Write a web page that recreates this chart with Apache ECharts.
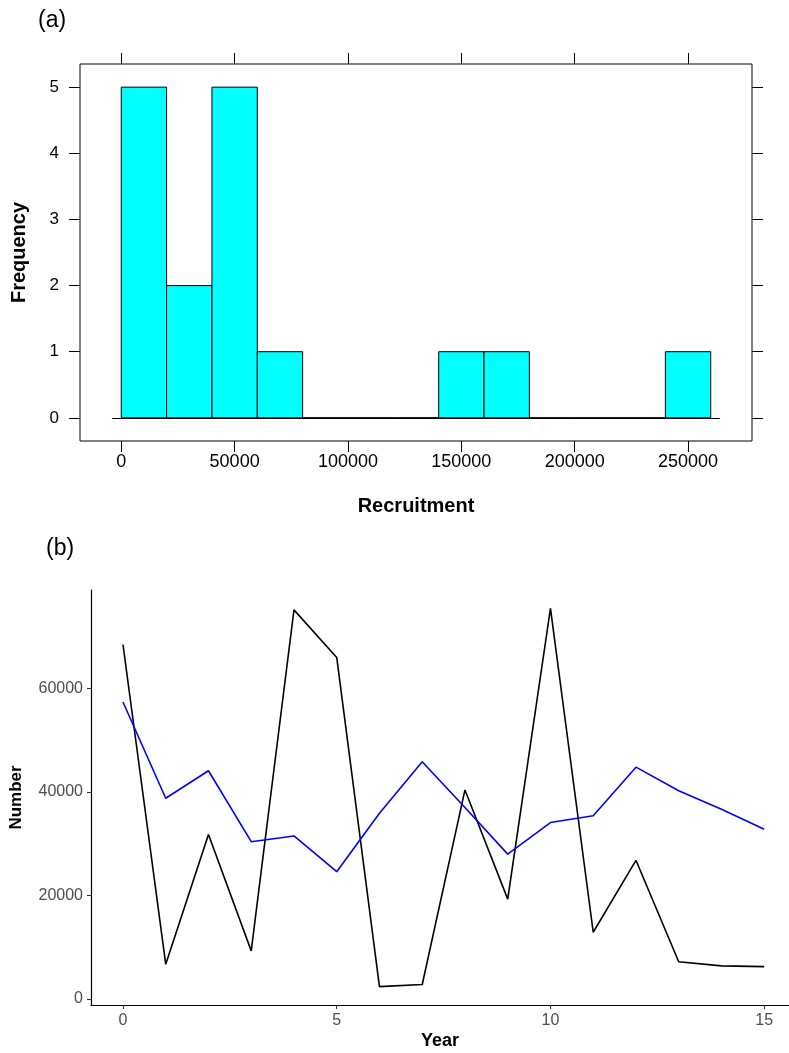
<!DOCTYPE html>
<html>
<head>
<meta charset="utf-8">
<script src="https://cdn.jsdelivr.net/npm/echarts@6/dist/echarts.min.js"></script>
<style>
html,body{margin:0;padding:0;background:#fff;}
#main{width:789px;height:1053px;}
</style>
</head>
<body>
<div id="main"></div>
<script>
// Panel (a): histogram of recruitment
const binStarts = [0, 20000, 40000, 60000, 80000, 100000, 120000, 140000, 160000, 180000, 200000, 220000, 240000];
const binEnds   = [20000, 40000, 60000, 80000, 100000, 120000, 140000, 160000, 180000, 200000, 220000, 240000, 260000];
const binCounts = [5, 2, 5, 1, 0, 0, 0, 1, 1, 0, 0, 0, 1];
const recruitTicks = [0, 50000, 100000, 150000, 200000, 250000];
const freqTicks = [0, 1, 2, 3, 4, 5];

// Panel (b): time series
const years = [0, 1, 2, 3, 4, 5, 6, 7, 8, 9, 10, 11, 12, 13, 14, 15];
const blackSeries = [68500, 6700, 31800, 9300, 75200, 66000, 2400, 2800, 40400, 19300, 75500, 12900, 26800, 7200, 6400, 6250];
const blueSeries  = [57400, 38800, 44100, 30400, 31500, 24600, 35900, 45850, 37000, 28000, 34100, 35400, 44800, 40250, 36650, 32800];
const yearTicks = [0, 5, 10, 15];
const numberTicks = [0, 20000, 40000, 60000];

const histData = binStarts.map((s, i) => [s, binEnds[i], binCounts[i]]);
const toPairs = arr => years.map((y, i) => [y, arr[i]]);
const plain = v => String(v);

const FONT = '"Liberation Sans", Arial, Helvetica, sans-serif';
const chart = echarts.init(document.getElementById('main'), null, {renderer: 'canvas'});

const option = {
  animation: false,
  backgroundColor: '#fff',
  textStyle: {fontFamily: FONT},
  title: [
    {text: '(a)', left: 33, top: 4, textStyle: {fontFamily: FONT, fontSize: 23, fontWeight: 'normal', color: '#000'}},
    {text: '(b)', left: 41, top: 532, textStyle: {fontFamily: FONT, fontSize: 23, fontWeight: 'normal', color: '#000'}}
  ],
  grid: [
    {left: 80, top: 64, width: 672, height: 377, show: true, borderColor: '#000', borderWidth: 1, backgroundColor: 'transparent', containLabel: false},
    {left: 90, top: 590, right: 0, bottom: 48, show: false, containLabel: false}
  ],
  xAxis: [
    {
      type: 'value', gridIndex: 0, position: 'bottom', min: -18200, max: 278200,
      axisLine: {show: false, onZero: false},
      axisTick: {show: true, inside: false, length: 11, customValues: recruitTicks, lineStyle: {color: '#000', width: 1}},
      axisLabel: {show: true, customValues: recruitTicks, formatter: plain, margin: 12, fontSize: 18, color: '#000', fontFamily: FONT},
      splitLine: {show: false},
      name: 'Recruitment', nameLocation: 'middle', nameGap: 55,
      nameTextStyle: {fontSize: 20, fontWeight: 'bold', color: '#000', fontFamily: FONT}
    },
    {
      type: 'value', gridIndex: 0, position: 'top', min: -18200, max: 278200,
      axisLine: {show: false, onZero: false},
      axisTick: {show: true, inside: false, length: 11, customValues: recruitTicks, lineStyle: {color: '#000', width: 1}},
      axisLabel: {show: false},
      splitLine: {show: false}
    },
    {
      type: 'value', gridIndex: 1, position: 'bottom', min: -0.748, max: 15.58,
      axisLine: {show: true, onZero: false, lineStyle: {color: '#000', width: 1.2}},
      axisTick: {show: true, inside: false, length: 4, customValues: yearTicks, lineStyle: {color: '#333', width: 1.1}},
      axisLabel: {show: true, customValues: yearTicks, formatter: plain, margin: 8, fontSize: 16, color: '#4D4D4D', fontFamily: FONT},
      splitLine: {show: false},
      name: 'Year', nameLocation: 'middle', nameGap: 27,
      nameTextStyle: {fontSize: 18, fontWeight: 'bold', color: '#000', fontFamily: FONT}
    }
  ],
  yAxis: [
    {
      type: 'value', gridIndex: 0, position: 'left', min: -0.35, max: 5.35,
      axisLine: {show: false, onZero: false},
      axisTick: {show: true, inside: false, length: 11, customValues: freqTicks, lineStyle: {color: '#000', width: 1}},
      axisLabel: {show: true, customValues: freqTicks, formatter: plain, margin: 21, fontSize: 17, color: '#000', fontFamily: FONT},
      splitLine: {show: false},
      name: 'Frequency', nameLocation: 'middle', nameGap: 51, nameRotate: 90,
      nameTextStyle: {fontSize: 20, fontWeight: 'bold', color: '#000', fontFamily: FONT}
    },
    {
      type: 'value', gridIndex: 0, position: 'right', min: -0.35, max: 5.35,
      axisLine: {show: false, onZero: false},
      axisTick: {show: true, inside: false, length: 11, customValues: freqTicks, lineStyle: {color: '#000', width: 1}},
      axisLabel: {show: false},
      splitLine: {show: false}
    },
    {
      type: 'value', gridIndex: 1, position: 'left', min: -1160, max: 79034,
      axisLine: {show: true, onZero: false, lineStyle: {color: '#000', width: 1.2}},
      axisTick: {show: true, inside: false, length: 4, customValues: numberTicks, lineStyle: {color: '#333', width: 1.1}},
      axisLabel: {show: true, customValues: numberTicks, formatter: plain, margin: 8, fontSize: 16, color: '#4D4D4D', fontFamily: FONT},
      splitLine: {show: false},
      name: 'Number', nameLocation: 'middle', nameGap: 66, nameRotate: 90,
      nameTextStyle: {fontSize: 17, fontWeight: 'bold', color: '#000', fontFamily: FONT}
    }
  ],
  series: [
    {
      type: 'custom', xAxisIndex: 0, yAxisIndex: 0,
      encode: {x: [0, 1], y: 2},
      data: histData,
      renderItem: function (params, api) {
        const p0 = api.coord([api.value(0), 0]);
        const p1 = api.coord([api.value(1), api.value(2)]);
        return {
          type: 'rect',
          shape: {x: p0[0], y: p1[1], width: p1[0] - p0[0], height: p0[1] - p1[1]},
          style: {fill: '#00FFFF', stroke: '#000', lineWidth: 1}
        };
      },
      markLine: {
        silent: true, symbol: 'none', animation: false,
        label: {show: false},
        lineStyle: {color: '#000', width: 1, type: 'solid'},
        data: [[{coord: [-4000, 0]}, {coord: [264000, 0]}]]
      }
    },
    {
      type: 'line', xAxisIndex: 2, yAxisIndex: 2,
      data: toPairs(blackSeries),
      showSymbol: false, symbol: 'none',
      lineStyle: {color: '#000', width: 1.6},
      z: 3
    },
    {
      type: 'line', xAxisIndex: 2, yAxisIndex: 2,
      data: toPairs(blueSeries),
      showSymbol: false, symbol: 'none',
      lineStyle: {color: '#0000FF', width: 1.6},
      z: 3
    }
  ]
};
chart.setOption(option);
</script>
</body>
</html>
